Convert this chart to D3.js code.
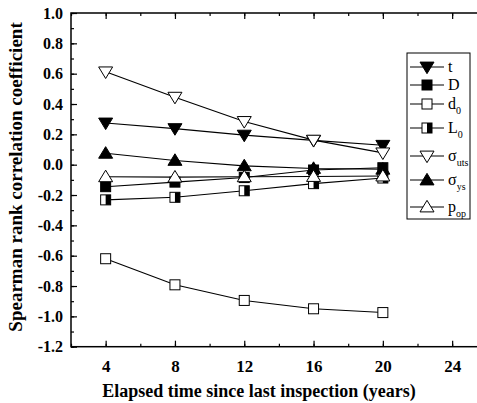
<!DOCTYPE html>
<html>
<head>
<meta charset="utf-8">
<script src="https://cdn.jsdelivr.net/npm/d3@7"></script>
<style>
  body { margin: 0; background: #fff; }
  text { font-family: "Liberation Serif", "Times New Roman", serif; }
</style>
</head>
<body>
<div id="chart"></div>
<script>
// data
var years = [4, 8, 12, 16, 20];
var t_vals    = [0.275, 0.238, 0.195, 0.160, 0.128];
var D_vals    = [-0.145, -0.115, -0.085, -0.035, -0.020];
var d0_vals   = [-0.620, -0.792, -0.895, -0.950, -0.975];
var L0_vals   = [-0.232, -0.215, -0.172, -0.125, -0.088];
var uts_vals  = [0.612, 0.445, 0.285, 0.162, 0.078];
var ys_vals   = [0.075, 0.028, -0.008, -0.025, -0.030];
var pop_vals  = [-0.080, -0.082, -0.080, -0.078, -0.075];
var xTicks = [4, 8, 12, 16, 20, 24];
var yTicks = [1.0, 0.8, 0.6, 0.4, 0.2, 0.0, -0.2, -0.4, -0.6, -0.8, -1.0, -1.2];

var series = [
  {name: "t",   sub: "",    values: t_vals,   shape: "down", fill: "#000"},
  {name: "D",   sub: "",    values: D_vals,   shape: "square", fill: "#000"},
  {name: "d",   sub: "0",   values: d0_vals,  shape: "square", fill: "#fff"},
  {name: "L",   sub: "0",   values: L0_vals,  shape: "half", fill: "#fff"},
  {name: "σ",   sub: "uts", values: uts_vals, shape: "down", fill: "#fff"},
  {name: "σ",   sub: "ys",  values: ys_vals,  shape: "up", fill: "#000"},
  {name: "p",   sub: "op",  values: pop_vals, shape: "up", fill: "#fff"}
];

var W = 477, H = 403;
var margin = {top: 13, left: 71, bottom: 56};
var x = d3.scaleLinear().domain([2, 26]).range([margin.left, margin.left + 24 * 69.3 / 4]);
var y = d3.scaleLinear().domain([-1.2, 1.0]).range([H - margin.bottom - 0.3, margin.top]);

var svg = d3.select("#chart").append("svg")
  .attr("width", W).attr("height", H);

var x0 = x.range()[0], x1 = x.range()[1], yb = y.range()[0], yt = y.range()[1];

// frame
svg.append("rect")
  .attr("x", x0).attr("y", yt)
  .attr("width", x1 - x0).attr("height", yb - yt)
  .attr("fill", "none").attr("stroke", "#000").attr("stroke-width", 1.5);

// bottom axis, ticks inward
var minorX = d3.range(2, 27, 2);
var gx = svg.append("g").attr("transform", "translate(0," + yb + ")")
  .call(d3.axisBottom(x).tickValues(minorX).tickSize(-3).tickFormat(""));
gx.select(".domain").remove();
var gx2 = svg.append("g").attr("transform", "translate(0," + yb + ")")
  .call(d3.axisBottom(x).tickValues(xTicks).tickSize(-6).tickPadding(13).tickFormat(d3.format("d")));
gx2.select(".domain").remove();
gx2.selectAll("text").attr("font-size", 17).attr("font-weight", "bold").attr("fill", "#000");

// top axis ticks inward
var gxt = svg.append("g").attr("transform", "translate(0," + yt + ")")
  .call(d3.axisTop(x).tickValues(minorX).tickSize(-3).tickFormat(""));
gxt.select(".domain").remove();
var gxt2 = svg.append("g").attr("transform", "translate(0," + yt + ")")
  .call(d3.axisTop(x).tickValues(xTicks).tickSize(-6).tickFormat(""));
gxt2.select(".domain").remove();

// left axis
var minorY = d3.range(-12, 11, 1).map(function(d){ return d / 10; });
var gy = svg.append("g").attr("transform", "translate(" + x0 + ",0)")
  .call(d3.axisLeft(y).tickValues(minorY).tickSize(-3).tickFormat(""));
gy.select(".domain").remove();
var gy2 = svg.append("g").attr("transform", "translate(" + x0 + ",0)")
  .call(d3.axisLeft(y).tickValues(yTicks).tickSize(-6).tickPadding(8).tickFormat(d3.format(".1f")));
gy2.select(".domain").remove();
gy2.selectAll("text").attr("font-size", 16).attr("font-weight", "bold").attr("fill", "#000")
  .text(function(d){ return d3.format(".1f")(d).replace("−", "-"); });

svg.selectAll(".tick line").attr("stroke", "#000").attr("stroke-width", 1.2);

// axis titles
svg.append("text")
  .attr("x", 259).attr("y", 397)
  .attr("text-anchor", "middle")
  .attr("font-size", 18).attr("font-weight", "bold")
  .text("Elapsed time since last inspection (years)");

svg.append("text")
  .attr("transform", "translate(22,177) rotate(-90)")
  .attr("text-anchor", "middle")
  .attr("font-size", 19).attr("font-weight", "bold")
  .text("Spearman rank correlation coefficient");

// markers
function drawMarker(g, s, cx, cy) {
  var r = 7;
  if (s.shape === "down") {
    g.append("path")
      .attr("d", "M" + (cx - r) + "," + (cy - r * 0.7) + "L" + (cx + r) + "," + (cy - r * 0.7) + "L" + cx + "," + (cy + r * 0.95) + "Z")
      .attr("fill", s.fill).attr("stroke", "#000").attr("stroke-width", 1);
  } else if (s.shape === "up") {
    g.append("path")
      .attr("d", "M" + (cx - r) + "," + (cy + r * 0.7) + "L" + (cx + r) + "," + (cy + r * 0.7) + "L" + cx + "," + (cy - r * 0.95) + "Z")
      .attr("fill", s.fill).attr("stroke", "#000").attr("stroke-width", 1);
  } else if (s.shape === "square") {
    g.append("rect")
      .attr("x", cx - 5).attr("y", cy - 5).attr("width", 10).attr("height", 10)
      .attr("fill", s.fill).attr("stroke", "#000").attr("stroke-width", 1);
  } else if (s.shape === "half") {
    g.append("rect")
      .attr("x", cx - 5).attr("y", cy - 5).attr("width", 10).attr("height", 10)
      .attr("fill", "#fff").attr("stroke", "#000").attr("stroke-width", 1);
    g.append("rect")
      .attr("x", cx).attr("y", cy - 5).attr("width", 5).attr("height", 10)
      .attr("fill", "#000");
  }
}

var line = d3.line()
  .x(function(d, i){ return x(years[i]); })
  .y(function(d){ return y(d); });

var plot = svg.append("g");
series.forEach(function(s){
  plot.append("path")
    .attr("d", line(s.values))
    .attr("fill", "none").attr("stroke", "#000").attr("stroke-width", 1.1);
});
series.forEach(function(s){
  s.values.forEach(function(v, i){
    drawMarker(plot, s, x(years[i]), y(v));
  });
});

// legend
var lx = 407, ly = 53, lw = 63, lh = 166;
var leg = svg.append("g");
leg.append("rect")
  .attr("x", lx).attr("y", ly).attr("width", lw).attr("height", lh)
  .attr("fill", "#fff").attr("stroke", "#000").attr("stroke-width", 1);
var legY = [67, 85, 104, 128, 156, 180, 207];
series.forEach(function(s, i){
  var cy = legY[i];
  leg.append("line")
    .attr("x1", lx + 3).attr("x2", lx + 37).attr("y1", cy).attr("y2", cy)
    .attr("stroke", "#000").attr("stroke-width", 1.1);
  drawMarker(leg, s, lx + 20, cy);
  var tx = leg.append("text")
    .attr("x", lx + 41).attr("y", cy + 5)
    .attr("font-size", 16);
  tx.append("tspan").text(s.name);
  if (s.sub) {
    tx.append("tspan").attr("dy", 5).attr("font-size", 10).text(s.sub);
  }
});
</script>
</body>
</html>
